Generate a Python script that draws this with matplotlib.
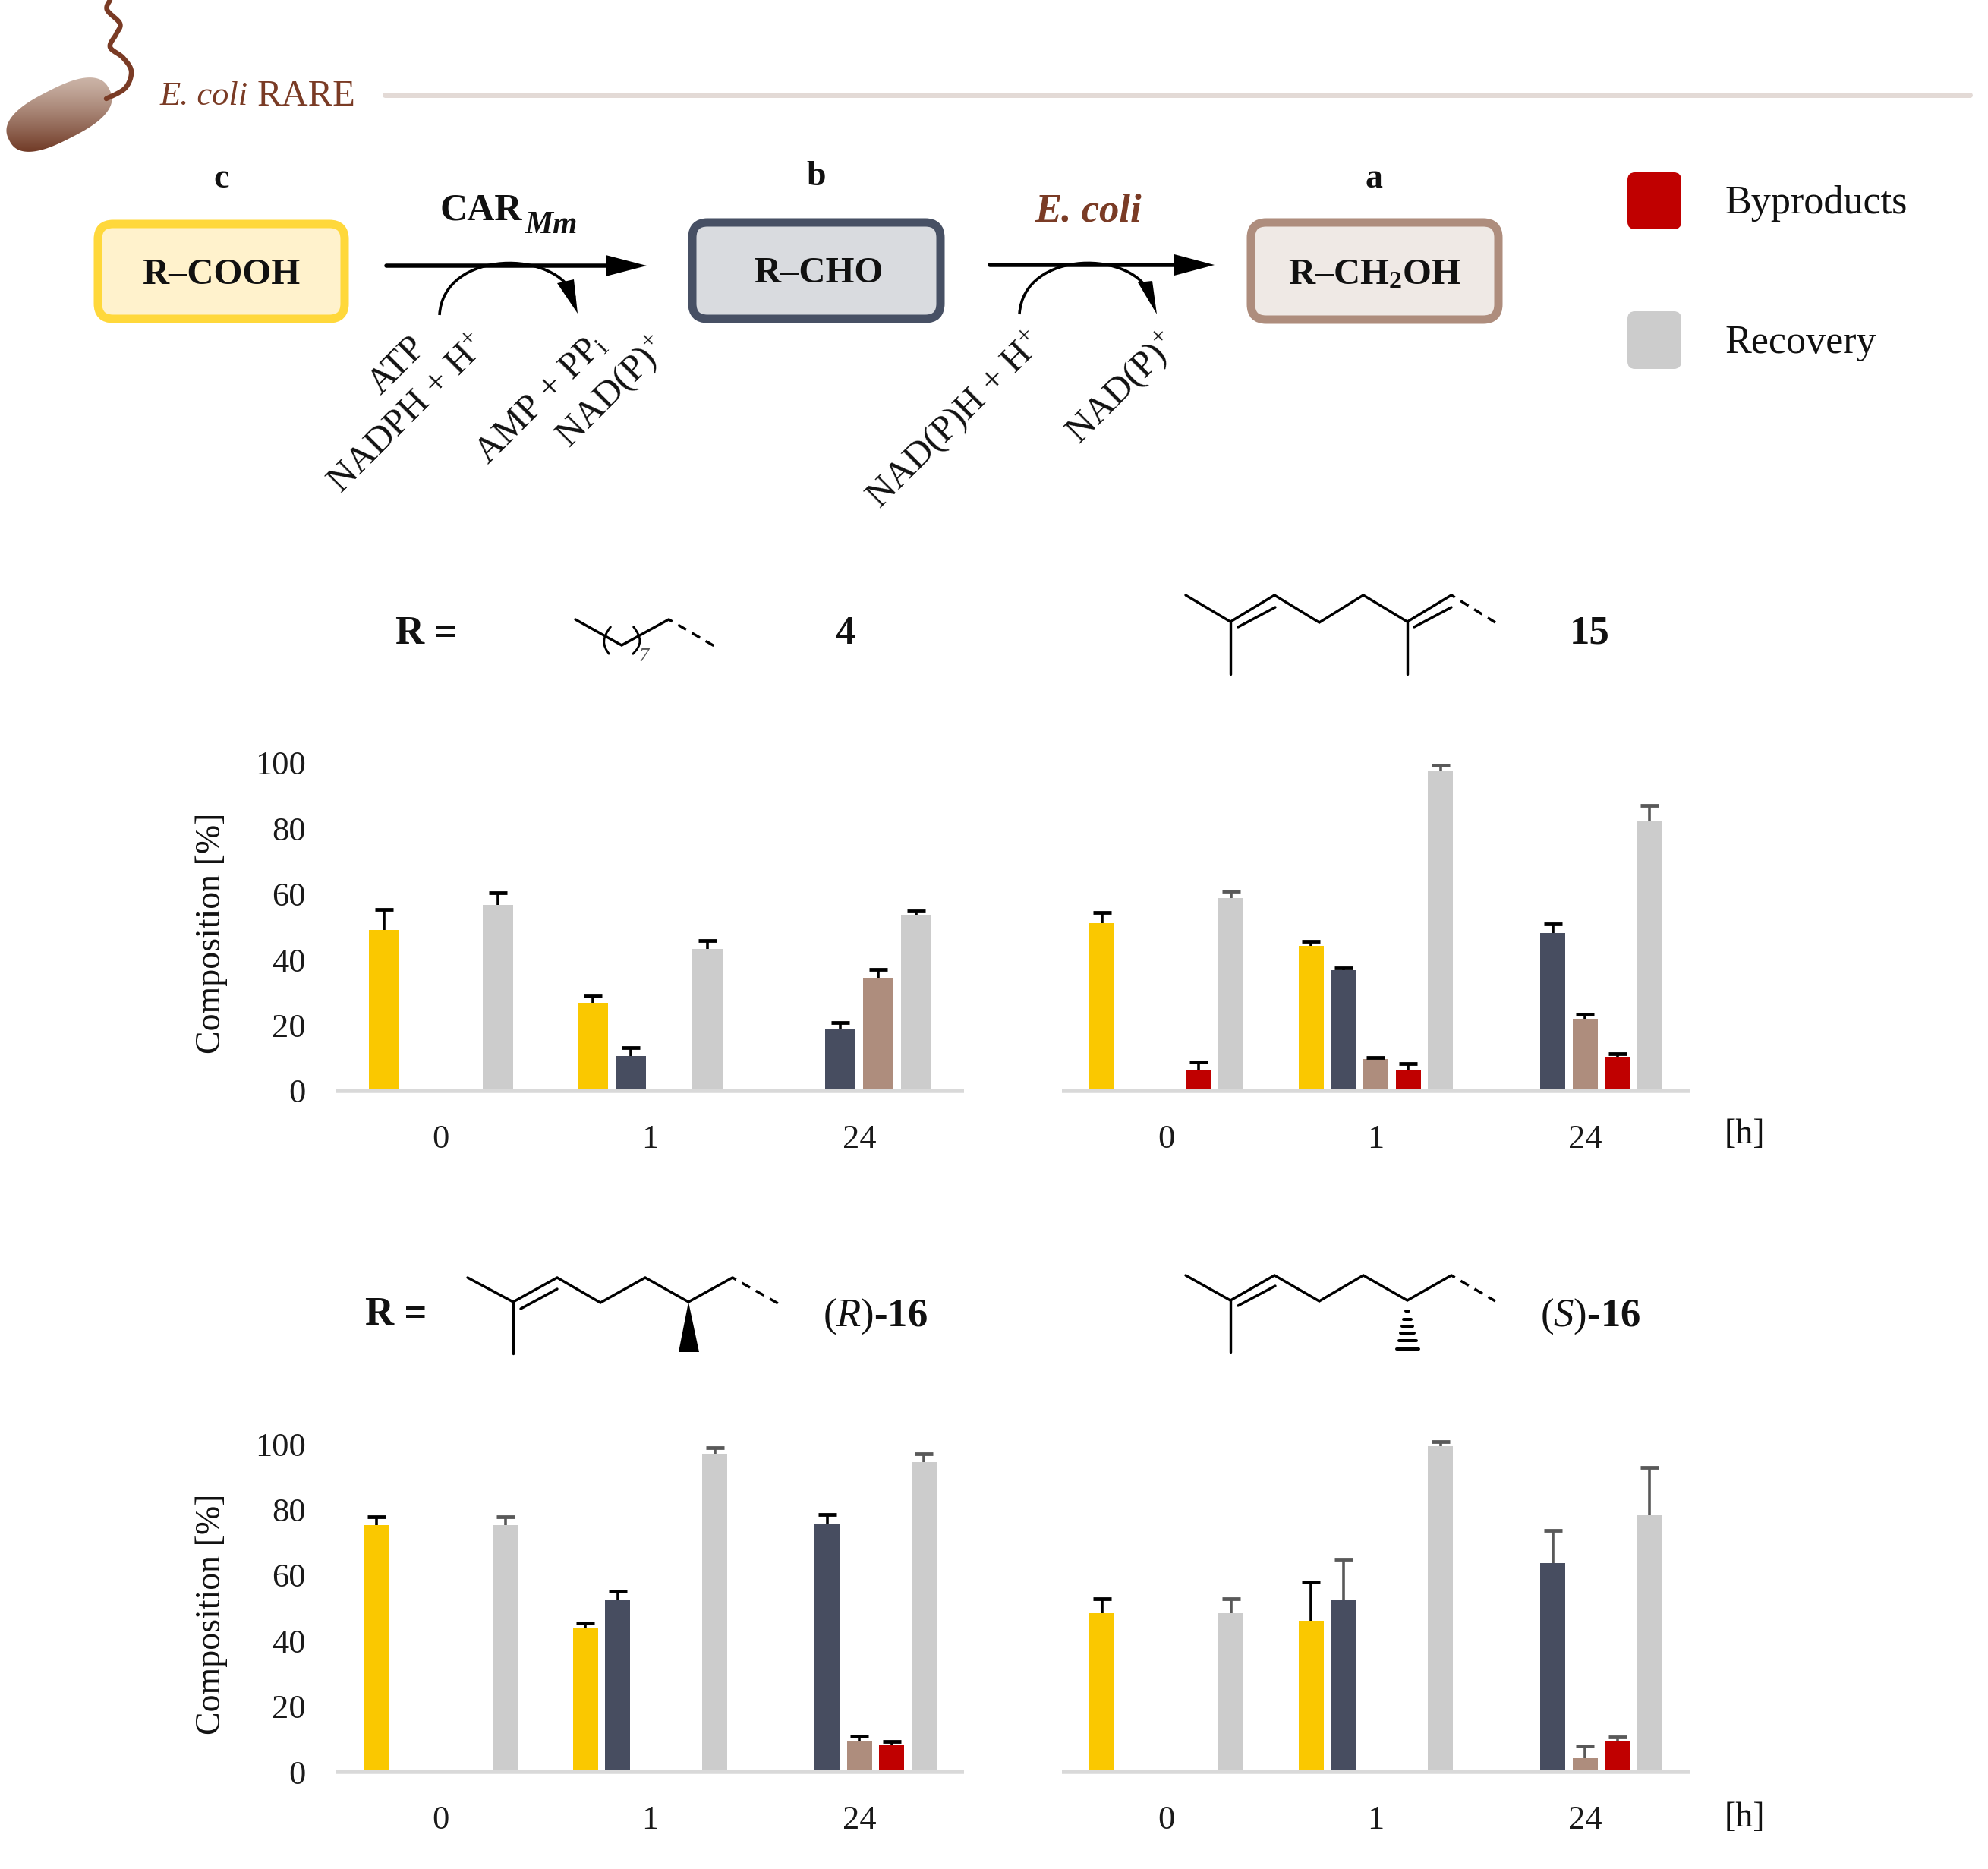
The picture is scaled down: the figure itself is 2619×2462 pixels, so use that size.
import numpy as np
import matplotlib
matplotlib.use('Agg')
import matplotlib.pyplot as plt
from matplotlib.patches import FancyBboxPatch, Polygon, PathPatch
from matplotlib.path import Path

plt.rcParams['font.family'] = ['Liberation Serif', 'DejaVu Serif']
plt.rcParams['mathtext.fontset'] = 'custom'
plt.rcParams['mathtext.rm'] = 'Liberation Serif'
plt.rcParams['mathtext.it'] = 'Liberation Serif:italic'
plt.rcParams['mathtext.bf'] = 'Liberation Serif:bold'

W, H = 2619, 2462
PX = 0.72  # one reference pixel in points at dpi 100

hours = ['0', '1', '24']
y_ticks = [0, 20, 40, 60, 80, 100]

# panel 4
acid_4 = [49.0, 26.9, 0]
acid_4_sd = [6.3, 2.1, 0]
ald_4 = [0, 10.6, 18.7]
ald_4_sd = [0, 2.7, 2.1]
alc_4 = [0, 0, 34.5]
alc_4_sd = [0, 0, 2.6]
rec_4 = [56.6, 43.3, 53.6]
rec_4_sd = [3.9, 2.5, 1.2]

# panel 15
acid_15 = [51.1, 44.2, 0]
acid_15_sd = [3.3, 1.5, 0]
ald_15 = [0, 36.7, 48.2]
ald_15_sd = [0, 0.9, 2.8]
alc_15 = [0, 9.7, 22.0]
alc_15_sd = [0, 0.6, 1.4]
byp_15 = [6.2, 6.2, 10.4]
byp_15_sd = [2.7, 2.1, 0.9]
rec_15 = [58.7, 97.8, 82.1]
rec_15_sd = [2.2, 1.5, 4.9]

# panel (R)-16
acid_r = [75.3, 43.8, 0]
acid_r_sd = [2.5, 1.5, 0]
ald_r = [0, 52.5, 75.8]
ald_r_sd = [0, 2.7, 2.6]
alc_r = [0, 0, 9.5]
alc_r_sd = [0, 0, 1.4]
byp_r = [0, 0, 8.3]
byp_r_sd = [0, 0, 0.9]
rec_r = [75.3, 96.9, 94.5]
rec_r_sd = [2.5, 1.9, 2.6]

# panel (S)-16
acid_s = [48.4, 46.1, 0]
acid_s_sd = [4.3, 11.7, 0]
ald_s = [0, 52.5, 63.6]
ald_s_sd = [0, 12.4, 9.9]
alc_s = [0, 0, 4.1]
alc_s_sd = [0, 0, 3.7]
byp_s = [0, 0, 9.5]
byp_s_sd = [0, 0, 1.1]
rec_s = [48.4, 99.2, 78.2]
rec_s_sd = [4.3, 1.4, 14.6]

YELLOW = '#fac800'
NAVY = '#474d60'
BROWN = '#ae8d7d'
RED = '#c00000'
GRAY = '#cccccc'
BLK = '#000000'
DGR = '#595959'
TXT_BROWN = '#7a3b25'

fig = plt.figure(figsize=(W / 100, H / 100), dpi=100)


def panel(x0, base, series, sds, colors, ecolors, step, width, ylabels):
    ax = fig.add_axes([x0 / W, 1 - base / H, 827 / W, 432 / H])
    ax.patch.set_alpha(0)
    n = len(series)
    for i in range(n):
        xs = np.arange(3) + (i - (n - 1) / 2) * step
        ax.bar(xs, series[i], width, color=colors[i], zorder=2)
        for x, v, s in zip(xs, series[i], sds[i]):
            if v > 0:
                # only the upper whisker and its cap
                ax.vlines(x, v, v + s, color=ecolors[i], lw=3.6 * PX, zorder=3, clip_on=False)
                ax.plot([x], [v + s], marker='_', ms=17, mew=4.8 * PX, color=ecolors[i],
                        zorder=3, clip_on=False)
    ax.set_xlim(-0.5, 2.5)
    ax.set_ylim(0, 100)
    for s in ['top', 'right', 'left']:
        ax.spines[s].set_visible(False)
    ax.spines['bottom'].set_color('#d9d9d9')
    ax.spines['bottom'].set_linewidth(5.5 * PX)
    ax.spines['bottom'].set_capstyle('butt')
    ax.set_xticks([0, 1, 2])
    ax.set_xticklabels(hours)
    ax.set_yticks(y_ticks if ylabels else [])
    ax.tick_params(length=0, labelsize=32, colors='#1a1a1a')
    ax.tick_params(axis='x', pad=32)
    ax.tick_params(axis='y', pad=29)
    return ax


c5 = [YELLOW, NAVY, BROWN, RED, GRAY]
panel(443, 1437, [acid_4, ald_4, alc_4, rec_4], [acid_4_sd, ald_4_sd, alc_4_sd, rec_4_sd],
      [YELLOW, NAVY, BROWN, GRAY], [BLK, BLK, BLK, BLK], 50 / 275.5, 40 / 275.5, True)
panel(1399, 1437, [acid_15, ald_15, alc_15, byp_15, rec_15],
      [acid_15_sd, ald_15_sd, alc_15_sd, byp_15_sd, rec_15_sd],
      c5, [BLK, BLK, BLK, BLK, DGR], 42.5 / 275.5, 33 / 275.5, False)
panel(443, 2334, [acid_r, ald_r, alc_r, byp_r, rec_r],
      [acid_r_sd, ald_r_sd, alc_r_sd, byp_r_sd, rec_r_sd],
      c5, [BLK, BLK, BLK, BLK, DGR], 42.5 / 275.5, 33 / 275.5, True)
panel(1399, 2334, [acid_s, ald_s, alc_s, byp_s, rec_s],
      [acid_s_sd, ald_s_sd, alc_s_sd, byp_s_sd, rec_s_sd],
      c5, [BLK, DGR, DGR, DGR, DGR], 42.5 / 275.5, 33 / 275.5, False)

# overlay in reference pixels for the scheme
ov = fig.add_axes([0, 0, 1, 1])
ov.patch.set_alpha(0)
ov.axis('off')


def txt(x, y, s, size=31, **kw):
    kw.setdefault('ha', 'center')
    kw.setdefault('va', 'center')
    kw.setdefault('color', '#111111')
    return ov.text(x, y, s, fontsize=size, **kw)


def line(pts, lw=3.4, color='black', **kw):
    pts = np.array(pts, float)
    ov.plot(pts[:, 0], pts[:, 1], color=color, lw=lw * PX, solid_capstyle='round',
            solid_joinstyle='miter', **kw)


def dash(a, b):
    ov.plot([a[0], b[0]], [a[1], b[1]], color='black', lw=3.4 * PX, linestyle=(2, (3.6, 2.6)))


def curve(p0, p1, p2, p3, lw=3.4, color='black'):
    path = Path([p0, p1, p2, p3], [Path.MOVETO, Path.CURVE4, Path.CURVE4, Path.CURVE4])
    ov.add_patch(PathPatch(path, fc='none', ec=color, lw=lw * PX))


# bacterium
grad = np.linspace(0, 1, 200)[:, None]
top = np.array([0.80, 0.71, 0.66])
bot = np.array([0.42, 0.20, 0.12])
img = np.repeat((top + (bot - top) * grad ** 1.2)[:, None, :].reshape(200, 1, 3), 2, axis=1)
im = ov.imshow(img, extent=(0, 160, 205, 100), aspect='auto', zorder=1)
t = np.linspace(0, 2 * np.pi, 200)
u = 74 * np.sign(np.cos(t)) * np.abs(np.cos(t)) ** 0.75
v = 34 * np.sign(np.sin(t)) * np.abs(np.sin(t)) ** 0.8
ang = np.radians(-27)
bx = 78 + u * np.cos(ang) - v * np.sin(ang)
by = 151 + u * np.sin(ang) + v * np.cos(ang)
body = Polygon(np.c_[bx, by], closed=True, fc='none', ec='none', transform=ov.transData)
ov.add_patch(body)
im.set_clip_path(body)

flag = np.array([(140, 130), (165, 116), (173, 94), (162, 76), (145, 62), (153, 45),
                 (158, 31), (141, 13), (145, 0)], float)
sm = []
for i in range(len(flag) - 1):
    p0 = flag[max(i - 1, 0)]
    p1 = flag[i]
    p2 = flag[i + 1]
    p3 = flag[min(i + 2, len(flag) - 1)]
    for s in np.linspace(0, 1, 12):
        sm.append(0.5 * (2 * p1 + (p2 - p0) * s + (2 * p0 - 5 * p1 + 4 * p2 - p3) * s ** 2
                         + (3 * p1 - p0 - 3 * p2 + p3) * s ** 3))
line(sm, lw=6.5, color=TXT_BROWN)

txt(211, 127, 'E. coli', size=32, ha='left', style='italic', color=TXT_BROWN)
txt(339, 127, 'RARE', size=35, ha='left', color=TXT_BROWN)
line([(507, 125), (2595, 125)], lw=7, color='#e3dad6')

# boxes
boxes = [(124, 290, 459, 425, '#ffd83b', '#fff2cc'),
         (907, 288, 1244, 425, '#475064', '#d9dbdf'),
         (1643, 288, 1979, 426, '#ae8d7d', '#efe9e5')]
for x0, y0, x1, y1, ec, fc in boxes:
    ov.add_patch(FancyBboxPatch((x0 + 25, y0 + 25), x1 - x0 - 50, y1 - y0 - 50,
                                boxstyle='round,pad=20,rounding_size=20', fc=fc, ec=ec, lw=11 * PX))
txt(291, 362, 'R–COOH', size=35, weight='bold')
txt(1078, 360, 'R–CHO', size=35, weight='bold')
txt(1811, 362, r'R–CH$\mathbf{_2}$OH', size=35, weight='bold')
txt(292, 236, 'c', size=33, weight='bold')
txt(1075, 233, 'b', size=33, weight='bold')
txt(1810, 236, 'a', size=33, weight='bold')

# arrows
for x0, x1, xb, y in [(509, 852, 798, 350), (1304, 1600, 1547, 349)]:
    line([(x0, y), (xb + 4, y)], lw=5.5)
    ov.add_patch(Polygon([(x1, y), (xb, y - 14), (xb, y + 14)], fc='black', ec='none'))
curve((579, 415), (584, 328), (735, 328), (757, 392), lw=3.6)
ov.add_patch(Polygon([(761, 413), (734, 373), (756, 368)], fc='black', ec='none'))
curve((1343, 414), (1348, 328), (1497, 328), (1517, 392), lw=3.6)
ov.add_patch(Polygon([(1524, 414), (1499, 372), (1518, 370)], fc='black', ec='none'))

txt(580, 278, 'CAR', size=36, ha='left', weight='bold')
txt(692, 297, 'Mm', size=30, ha='left', weight='bold', style='italic')
txt(1434, 279, 'E. coli', size=38, weight='bold', style='italic', color=TXT_BROWN)

rot = dict(rotation=45, rotation_mode='anchor', size=35)
txt(524, 482, 'ATP', **rot)
txt(538, 546, r'NADPH + H$^{+}$', **rot)
txt(713, 526, r'AMP + PP$_{\mathrm{i}}$', **rot)
txt(807, 517, r'NAD(P)$^{+}$', **rot)
txt(1259, 554, r'NAD(P)H + H$^{+}$', **rot)
txt(1479, 512, r'NAD(P)$^{+}$', **rot)

# legend
for y0, y1, c, label in [(227, 302, RED, 'Byproducts'), (410, 486, GRAY, 'Recovery')]:
    ov.add_patch(FancyBboxPatch((2154, y0 + 10), 51, y1 - y0 - 20,
                                boxstyle='round,pad=10,rounding_size=10', fc=c, ec='none'))
    txt(2272, (y0 + y1) / 2 + 4, label, size=37.5, ha='left')

# R groups
txt(562, 835, 'R =', size=38, weight='bold')
txt(1113, 835, '4', size=38, weight='bold')
txt(2094, 835, '15', size=38, weight='bold')
txt(522, 1732, 'R =', size=38, weight='bold')
txt(1153, 1734, r'$(\mathit{R})$-16', size=38, weight='bold')
txt(2095, 1734, r'$(\mathit{S})$-16', size=38, weight='bold')

# structure 4
line([(758, 816), (819, 850), (881, 816)])
dash((881, 816), (941, 851))
curve((805, 825), (793, 840), (793, 850), (803, 862), lw=2.8)
curve((834, 825), (846, 840), (846, 850), (833, 862), lw=2.8)
txt(848, 865, '7', size=19, color='#555555', style='italic')

# structure 15
line([(1562, 784), (1621, 819), (1679, 784), (1738, 820), (1796, 784), (1854, 819), (1912, 784)])
dash((1912, 784), (1970, 820))
line([(1621, 819), (1621, 888)])
line([(1854, 819), (1854, 888)])
line([(1631, 826), (1680, 800)])
line([(1863, 826), (1912, 800)])

# structure (R)-16
line([(616, 1683), (676, 1715), (734, 1683), (791, 1716), (850, 1683), (907, 1715), (965, 1683)])
dash((965, 1683), (1025, 1717))
line([(676, 1715), (676, 1783)])
line([(686, 1724), (734, 1698)])
ov.add_patch(Polygon([(907, 1715), (894, 1781), (921, 1781)], fc='black', ec='none'))

# structure (S)-16
line([(1562, 1680), (1621, 1713), (1679, 1680), (1738, 1714), (1796, 1680), (1854, 1713), (1912, 1680)])
dash((1912, 1680), (1970, 1714))
line([(1621, 1713), (1621, 1781)])
line([(1631, 1720), (1680, 1694)])
for y, hw in zip([1727, 1738, 1747, 1756, 1766, 1777], [2, 5, 7, 9, 11.5, 14.5]):
    line([(1854 - hw, y), (1854 + hw, y)], lw=4)

# axis texts
txt(279, 1229, 'Composition [%]', size=33, rotation=90)
txt(279, 2126, 'Composition [%]', size=33, rotation=90)
txt(2298, 1495, '[h]', size=33)
txt(2298, 2395, '[h]', size=33)

ov.set_xlim(0, W)
ov.set_ylim(H, 0)

fig.savefig('out.png', dpi=100, facecolor='white')
